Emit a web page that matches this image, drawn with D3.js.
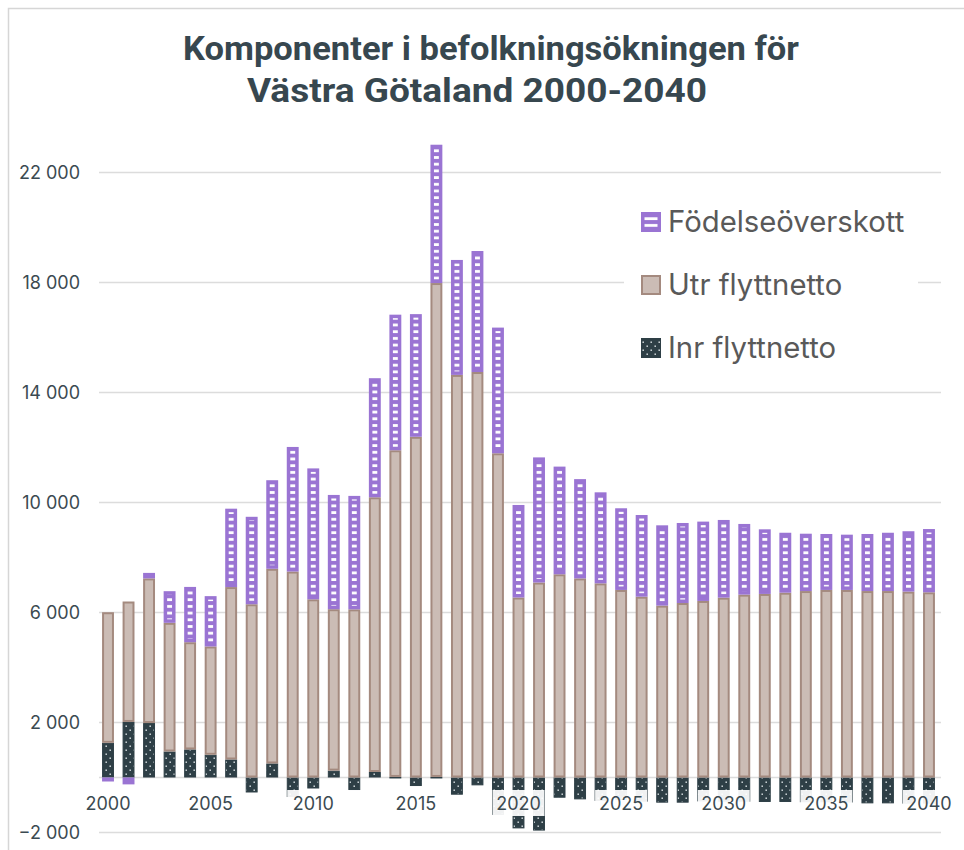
<!DOCTYPE html>
<html>
<head>
<meta charset="utf-8">
<script src="https://cdn.jsdelivr.net/npm/d3@7"></script>
<style>
  body { margin: 0; background: #fff; }
  svg { display: block; font-family: Inter, "Noto Sans", sans-serif; }
</style>
</head>
<body>
<script>
//Data
    const years = d3.range(2000, 2041);

    const inrFlytt = [1260, 2020, 1980, 945, 1020, 825, 655, -545, 510, -710,
                      -400, 250, -455, 200, 20, -310, 20, -625, -285, -1360,
                      -1850, -1930, -735, -795, -850, -820, -880, -915, -915, -870,
                      -880, -880, -890, -890, -900, -900, -910, -940, -940, -950, -950];

    const utrFlytt = [4750, 4380, 5260, 4680, 3900, 3940, 6270, 6300, 7080, 7490,
                      6480, 5870, 6115, 9990, 11880, 12390, 17960, 14640, 14745, 11790,
                      6545, 7090, 7390, 7240, 7060, 6820, 6575, 6250, 6345, 6420,
                      6540, 6650, 6675, 6720, 6780, 6820, 6820, 6780, 6780, 6760, 6735];

    const fodelse = [-100, -250, 200, 1150, 2010, 1830, 2850, 3180, 3220, 4530,
                     4760, 4155, 4125, 4330, 4930, 4460, 5030, 4180, 4400, 4570,
                     3365, 4550, 3915, 3610, 3310, 2970, 2970, 2920, 2910, 2885,
                     2825, 2570, 2350, 2180, 2085, 2035, 2010, 2075, 2120, 2195, 2300];

    const yTicks = [-2000, 2000, 6000, 10000, 14000, 18000, 22000];
    const xTicks = [2000, 2005, 2010, 2015, 2020, 2025, 2030, 2035, 2040];

    const seriesKeys = ["inr", "utr", "fod"];
    const legendItems = [
        {key: "fod", label: "Födelseöverskott"},
        {key: "utr", label: "Utr flyttnetto"},
        {key: "inr", label: "Inr flyttnetto"}
    ];

    const table = years.map((y, i) => ({
        year: y, inr: inrFlytt[i], utr: utrFlytt[i], fod: fodelse[i]
    }));

//Set up dimensions
    const width = 964;
    const height = 850;

//Make the SVG
    const svg = d3.select("body")
                .append("svg")
                .attr("width", width)
                .attr("height", height);

    const defs = svg.append("defs");

    //purple ladder pattern
    const pFod = defs.append("pattern")
        .attr("id", "patFod")
        .attr("patternUnits", "userSpaceOnUse")
        .attr("width", 1000)
        .attr("height", 6.7);
    pFod.append("rect").attr("width", 1000).attr("height", 6.7).attr("fill", "#9a74d3");
    pFod.append("rect").attr("y", 2).attr("width", 1000).attr("height", 2.8).attr("fill", "#fff");

    //dark dotted pattern
    const pInr = defs.append("pattern")
        .attr("id", "patInr")
        .attr("patternUnits", "userSpaceOnUse")
        .attr("width", 8)
        .attr("height", 8);
    pInr.append("rect").attr("width", 8).attr("height", 8).attr("fill", "#2e3f46");
    pInr.append("rect").attr("x", 1.5).attr("y", 1.5).attr("width", 1.4).attr("height", 1.4).attr("fill", "#e8eef0");
    pInr.append("rect").attr("x", 5.5).attr("y", 5.5).attr("width", 1.4).attr("height", 1.4).attr("fill", "#e8eef0");

    const style = {
        fod: {fill: "url(#patFod)", stroke: "#9a74d3", sw: 3.5},
        utr: {fill: "#cbbcb5", stroke: "#a48a7f", sw: 2},
        inr: {fill: "url(#patInr)", stroke: "#2e3f46", sw: 1}
    };

//Frame
    svg.append("rect")
        .attr("x", 8.5).attr("y", 8.5)
        .attr("width", 970).attr("height", 870)
        .attr("fill", "none")
        .attr("stroke", "#d6d6d6")
        .attr("stroke-width", 1.5);

//Title
    const title = svg.append("g").attr("fill", "#37474f")
        .attr("font-family", "Roboto, Inter, sans-serif")
        .attr("font-weight", 700)
        .attr("font-size", 34)
        .attr("text-anchor", "middle");
    title.append("text").attr("x", 491).attr("y", 60)
        .attr("textLength", 616).attr("lengthAdjust", "spacingAndGlyphs")
        .text("Komponenter i befolkningsökningen för");
    title.append("text").attr("x", 477).attr("y", 102)
        .attr("textLength", 460).attr("lengthAdjust", "spacingAndGlyphs")
        .text("Västra Götaland 2000-2040");

//Set up scales
    const xScale = d3.scaleBand()
                    .domain(years)
                    .range([97.75, 939.25])
                    .paddingInner(0.42)
                    .paddingOuter(0.21);

    const yScale = d3.scaleLinear()
                    .domain([-2000, 22000])
                    .range([832.5, 172.5]);

//Gridlines
    svg.append("g")
        .selectAll("line")
        .data(yTicks.concat([0]))
        .enter()
        .append("line")
        .attr("x1", 99).attr("x2", 941)
        .attr("y1", d => yScale(d)).attr("y2", d => yScale(d))
        .attr("stroke", "#dcdcdc")
        .attr("stroke-width", 1.5);

//Y axis labels
    const fmt = d => d3.format(",")(d).replace(/,/g, " ");
    const leftAxis = d3.axisLeft(yScale)
                       .tickValues(yTicks)
                       .tickFormat(fmt)
                       .tickSize(0)
                       .tickPadding(0);
    const gy = svg.append("g")
        .attr("transform", "translate(80,0)")
        .call(leftAxis);
    gy.select(".domain").remove();
    gy.selectAll("text")
        .attr("font-family", "Inter, sans-serif")
        .attr("font-size", 18)
        .attr("fill", "#3b4a51");

//Stack and draw bars
    const stack = d3.stack().keys(seriesKeys).offset(d3.stackOffsetDiverging);
    const layers = stack(table);

    svg.append("g")
        .selectAll("g")
        .data(layers)
        .enter()
        .append("g")
        .each(function(layer) {
            const s = style[layer.key];
            d3.select(this).selectAll("rect")
                .data(layer.filter(d => d[1] !== d[0]))
                .enter()
                .append("rect")
                .attr("x", d => xScale(d.data.year) + s.sw / 2)
                .attr("y", d => yScale(Math.max(d[0], d[1])) + s.sw / 2)
                .attr("width", xScale.bandwidth() - s.sw)
                .attr("height", d => Math.max(0.5, Math.abs(yScale(d[0]) - yScale(d[1])) - s.sw))
                .attr("fill", s.fill)
                .attr("stroke", s.stroke)
                .attr("stroke-width", s.sw);
        });

//X axis labels with white boxes
    const bottomAxis = d3.axisBottom(xScale)
                         .tickValues(xTicks)
                         .tickSize(0)
                         .tickPadding(0);
    const gx = svg.append("g")
        .call(bottomAxis);
    gx.select(".domain").remove();
    gx.selectAll(".tick").each(function() {
        const t = d3.select(this);
        t.insert("rect", "text")
            .attr("x", -26).attr("y", 790)
            .attr("width", 52).attr("height", 26)
            .attr("fill", "#fff")
            .attr("fill-opacity", 0.93);
    });
    gx.selectAll("text")
        .attr("y", 810)
        .attr("dy", 0)
        .attr("font-family", "Inter, sans-serif")
        .attr("font-size", 18)
        .attr("fill", "#3b4a51");

//Legend
    const legend = svg.append("g");
    legend.append("rect")
        .attr("x", 624).attr("y", 196)
        .attr("width", 294).attr("height", 178)
        .attr("fill", "#fff");
    const li = legend.selectAll("g.item")
        .data(legendItems)
        .enter()
        .append("g")
        .attr("class", "item")
        .attr("transform", (d, i) => "translate(641," + (222 + i * 63) + ")");
    li.append("rect")
        .attr("x", d => style[d.key].sw / 2)
        .attr("y", d => -10 + style[d.key].sw / 2)
        .attr("width", d => 20 - style[d.key].sw)
        .attr("height", d => 20 - style[d.key].sw)
        .attr("fill", d => style[d.key].fill)
        .attr("stroke", d => style[d.key].stroke)
        .attr("stroke-width", d => style[d.key].sw);
    li.append("text")
        .attr("x", 27)
        .attr("y", 10)
        .attr("font-family", "Inter, sans-serif")
        .attr("font-size", 29.3)
        .attr("fill", "#595959")
        .text(d => d.label);
</script>
</body>
</html>
